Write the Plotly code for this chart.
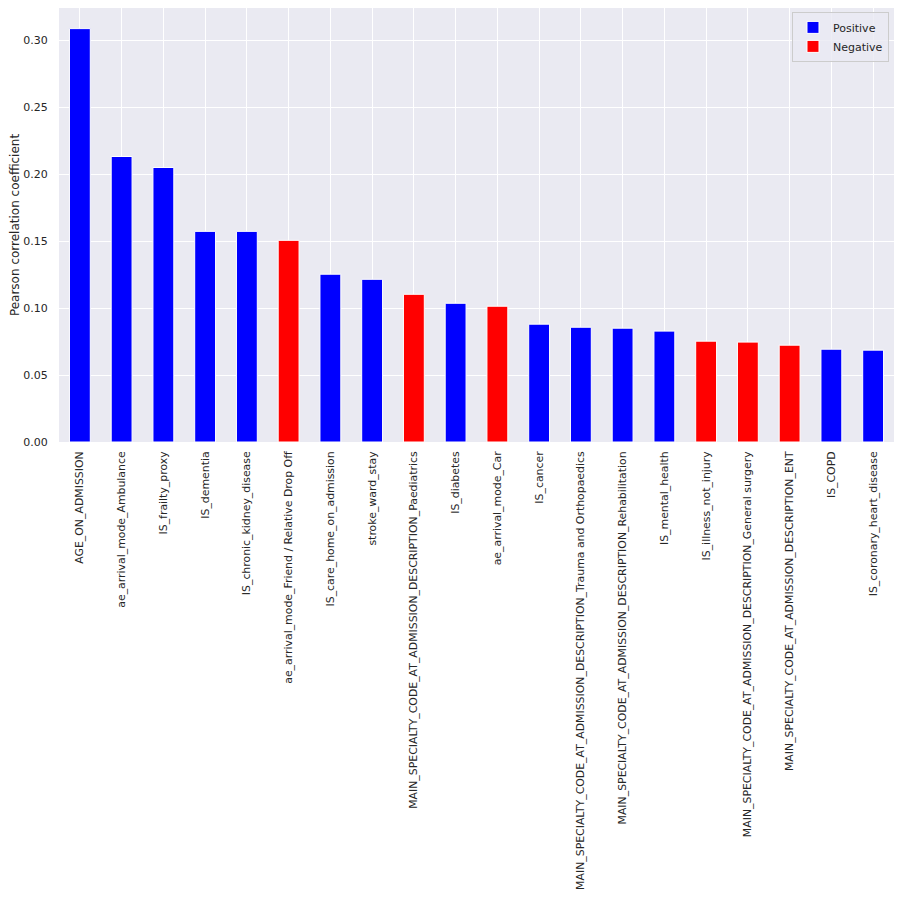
import plotly.graph_objects as go

# features sorted by absolute correlation
features = [
    "AGE_ON_ADMISSION",
    "ae_arrival_mode_Ambulance",
    "IS_frailty_proxy",
    "IS_dementia",
    "IS_chronic_kidney_disease",
    "ae_arrival_mode_Friend / Relative Drop Off",
    "IS_care_home_on_admission",
    "stroke_ward_stay",
    "MAIN_SPECIALTY_CODE_AT_ADMISSION_DESCRIPTION_Paediatrics",
    "IS_diabetes",
    "ae_arrival_mode_Car",
    "IS_cancer",
    "MAIN_SPECIALTY_CODE_AT_ADMISSION_DESCRIPTION_Trauma and Orthopaedics",
    "MAIN_SPECIALTY_CODE_AT_ADMISSION_DESCRIPTION_Rehabilitation",
    "IS_mental_health",
    "IS_illness_not_injury",
    "MAIN_SPECIALTY_CODE_AT_ADMISSION_DESCRIPTION_General surgery",
    "MAIN_SPECIALTY_CODE_AT_ADMISSION_DESCRIPTION_ENT",
    "IS_COPD",
    "IS_coronary_heart_disease",
]
abs_corr = [0.3087, 0.2132, 0.2050, 0.1573, 0.1573, 0.1506, 0.1253, 0.1215,
            0.1103, 0.1036, 0.1014, 0.0880, 0.0857, 0.0850, 0.0828, 0.0753,
            0.0746, 0.0723, 0.0693, 0.0686]
direction = ["Positive", "Positive", "Positive", "Positive", "Positive", "Negative",
             "Positive", "Positive", "Negative", "Positive", "Negative", "Positive",
             "Positive", "Positive", "Positive", "Negative", "Negative", "Negative",
             "Positive", "Positive"]
colors = {"Positive": "blue", "Negative": "red"}

fig = go.Figure()
for sign in ["Positive", "Negative"]:
    xs = [f for f, d in zip(features, direction) if d == sign]
    ys = [v for v, d in zip(abs_corr, direction) if d == sign]
    fig.add_trace(go.Bar(x=xs, y=ys, name=sign, width=0.5,
                         marker=dict(color=colors[sign], line=dict(color="white", width=1))))

# page has an 8px body margin, so the figure is a bit smaller than the window
fig.update_layout(
    width=886, height=886,
    barmode="overlay",
    paper_bgcolor="white", plot_bgcolor="#EAEAF2",
    margin=dict(l=51, r=0, t=0, b=452),
    font=dict(family="DejaVu Sans", size=11, color="#262626"),
    legend=dict(x=0.994, y=0.991, xanchor="right", yanchor="top",
                bgcolor="rgba(234,234,242,0.8)", bordercolor="#CCCCCC", borderwidth=1,
                font=dict(size=11)),
    showlegend=True,
)
fig.update_xaxes(categoryorder="array", categoryarray=features, range=[-0.5, 19.5],
                 tickangle=-90, showgrid=True, gridcolor="white", gridwidth=1,
                 tickfont=dict(size=10.9),
                 ticks="outside", ticklen=4, tickcolor="rgba(0,0,0,0)",
                 automargin=False, zeroline=False)
fig.update_yaxes(range=[0, 0.3241], dtick=0.05, tickformat=".2f",
                 showgrid=True, gridcolor="white", gridwidth=1,
                 ticks="outside", ticklen=8, tickcolor="rgba(0,0,0,0)",
                 title=dict(text="Pearson correlation coefficient", font=dict(size=12), standoff=3),
                 automargin=False, zeroline=False)

fig.write_html("out.html")
